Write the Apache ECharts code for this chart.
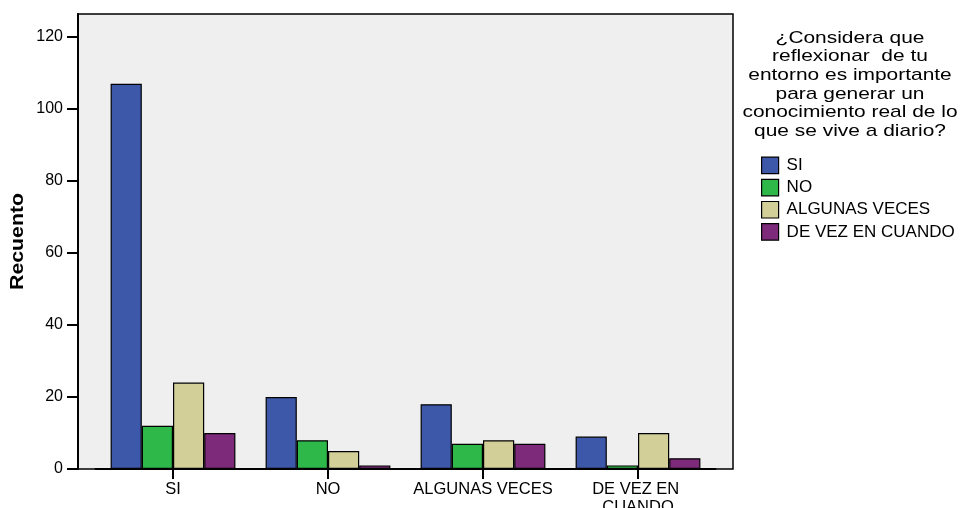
<!DOCTYPE html>
<html>
<head>
<meta charset="utf-8">
<script src="https://cdn.jsdelivr.net/npm/echarts@6/dist/echarts.min.js"></script>
<style>
html,body{margin:0;padding:0;background:#fff;}
#chart{width:963px;height:508px;}
</style>
</head>
<body>
<div id="chart"></div>
<script>
// ---- data ----
const categories = ['SI', 'NO', 'ALGUNAS VECES', 'DE VEZ EN CUANDO'];
const seriesNames = ['SI', 'NO', 'ALGUNAS VECES', 'DE VEZ EN CUANDO'];
const siValues = [107, 20, 18, 9];
const noValues = [12, 8, 7, 1];
const algunasValues = [24, 5, 8, 10];
const deVezValues = [10, 1, 7, 3];
const yTicks = [0, 20, 40, 60, 80, 100, 120];
const yAxisTitle = 'Recuento';
const legendTitleLines = [
  '¿Considera que',
  'reflexionar  de tu',
  'entorno es importante',
  'para generar un',
  'conocimiento real de lo',
  'que se vive a diario?'
];

// ---- styles ----
const colors = ['#3d57a9', '#2fb84a', '#d3cf99', '#7c2a79'];
const seriesValues = [siValues, noValues, algunasValues, deVezValues];
const FONT = '"Liberation Sans", Arial, sans-serif';
const yMax = 126.4;

const chart = echarts.init(document.getElementById('chart'), null, {renderer: 'canvas'});

const series = seriesNames.map((name, i) => ({
  name: name,
  type: 'bar',
  xAxisIndex: 1,
  yAxisIndex: 1,
  data: seriesValues[i],
  barWidth: 31.2,
  barGap: '0%',
  itemStyle: {color: colors[i], borderColor: '#000', borderWidth: 1.2},
  emphasis: {disabled: true}
}));

chart.setOption({
  animation: false,
  backgroundColor: '#ffffff',
  grid: [
    {left: 78, right: 230, top: 14, bottom: 39, show: true, outerBoundsMode: 'none', containLabel: false,
     backgroundColor: '#efefef', borderColor: '#000', borderWidth: 1.5},
    {left: 95.5, right: 247.5, top: 14, bottom: 39, outerBoundsMode: 'none', containLabel: false}
  ],
  xAxis: [
    {gridIndex: 0, type: 'value', min: 0, max: 1, show: false},
    {gridIndex: 1, type: 'category', data: categories,
     axisLine: {show: true, lineStyle: {color: '#000', width: 2}},
     axisTick: {show: true, alignWithLabel: true, length: 10, lineStyle: {color: '#000', width: 2}},
     axisLabel: {color: '#000', fontFamily: FONT, fontSize: 16.5, margin: 11,
                 lineHeight: 18, width: 150, overflow: 'break', interval: 0},
     splitLine: {show: false}}
  ],
  yAxis: [
    {gridIndex: 0, type: 'value', min: 0, max: yMax, interval: 20,
     axisLine: {show: true, lineStyle: {color: '#000', width: 2}},
     axisTick: {show: true, length: 11, lineStyle: {color: '#000', width: 2}, customValues: yTicks},
     axisLabel: {color: '#000', fontFamily: FONT, fontSize: 16, margin: 15, customValues: yTicks},
     splitLine: {show: false}},
    {gridIndex: 1, type: 'value', min: 0, max: yMax, show: false, splitLine: {show: false}}
  ],
  legend: {
    orient: 'vertical',
    left: 756, top: 151.5,
    itemWidth: 17, itemHeight: 16.5, itemGap: 4.5,
    icon: 'rect',
    data: seriesNames,
    itemStyle: {borderColor: '#000', borderWidth: 1.2},
    textStyle: {color: '#000', fontFamily: FONT, fontSize: 17, padding: [0, 0, 0, 3]},
    selectedMode: false
  },
  graphic: [
    {type: 'text', x: 850, y: 28.5, scaleX: 1.23, silent: true,
     style: {text: legendTitleLines.join('\n'), x: 0, y: 0, textAlign: 'center', textVerticalAlign: 'top',
             fill: '#000', fontFamily: FONT, fontSize: 17, lineHeight: 18.7}},
    {type: 'text', x: 18, y: 241.5, rotation: Math.PI / 2, scaleX: 1.15, silent: true,
     style: {text: yAxisTitle, x: 0, y: 0, textAlign: 'center', textVerticalAlign: 'middle',
             fill: '#000', fontFamily: FONT, fontSize: 18.5, fontWeight: 'bold'}}
  ],
  series: series
});
</script>
</body>
</html>
